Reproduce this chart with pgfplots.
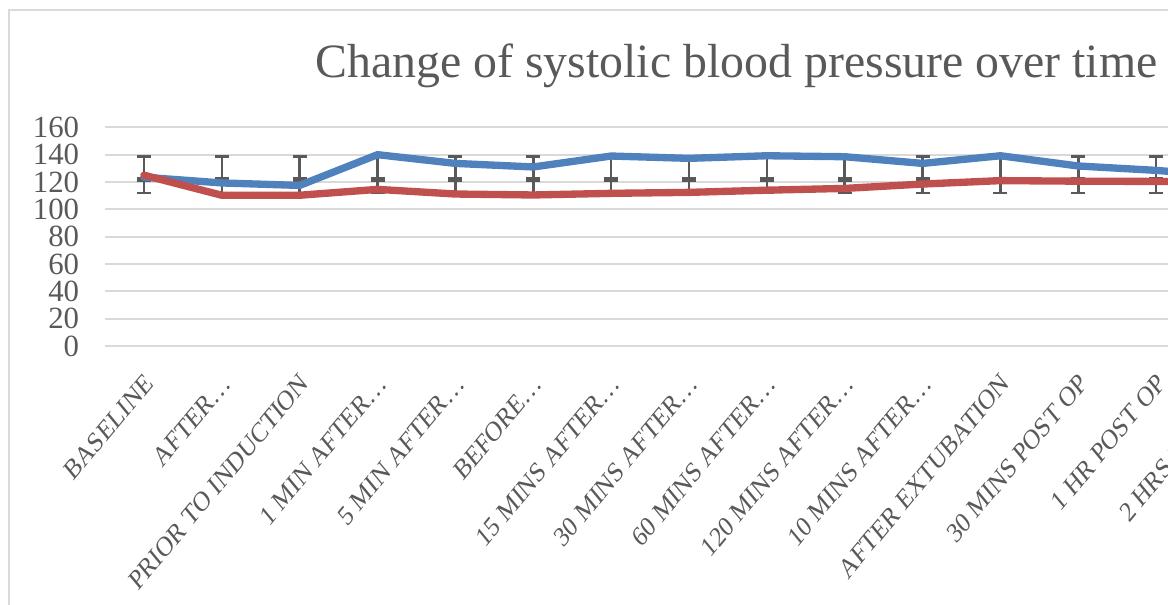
\documentclass[border=0pt]{standalone}
\usepackage{fontspec}
\setmainfont{Liberation Serif}
\usepackage{pgfplots}
\pgfplotsset{compat=1.18}
\definecolor{sbpblue}{HTML}{4F81BD}
\definecolor{sbpred}{HTML}{C0504D}
\definecolor{txtgray}{HTML}{595959}
\definecolor{gridgray}{HTML}{D9D9D9}
\definecolor{errgray}{HTML}{595959}

\begin{document}
\begin{tikzpicture}
% the reference is a crop of a wider chart: keep the same window
\useasboundingbox (0,0) rectangle (700.8pt,363pt);
\clip (0,0) rectangle (700.8pt,363pt);
\draw[gridgray, line width=1.2pt] (5.4pt,-5pt) -- (5.4pt,357pt) -- (720pt,357pt);
\node[txtgray, font=\fontsize{28.7}{32}\selectfont, anchor=base] at (441.9pt,316.2pt)
  {Change of systolic blood pressure over time};
\begin{axis}[
    at={(63pt,155.4pt)}, anchor=south west,
    scale only axis, width=700.8pt, height=131.2pt,
    xmin=-0.5, xmax=14.5, ymin=0, ymax=160,
    ytick={0,20,...,160},
    xtick={0,...,14},
    xticklabels={BASELINE, AFTER…, PRIOR TO INDUCTION, 1 MIN AFTER…, 5 MIN AFTER…,
      BEFORE…, 15 MINS AFTER…, 30 MINS AFTER…, 60 MINS AFTER…, 120 MINS AFTER…,
      10 MINS AFTER…, AFTER EXTUBATION, 30 MINS POST OP, 1 HR POST OP, 2 HRS POST OP},
    axis line style={draw=none},
    major tick length=0pt,
    ymajorgrids,
    grid style={gridgray, line width=1.2pt},
    /pgf/number format/assume math mode=true,
    tick label style={txtgray},
    yticklabel style={font=\fontsize{18.5}{20}\selectfont, xshift=-12pt},
    xticklabel style={font=\fontsize{17}{19}\selectfont, xshift=5pt, yshift=-17pt,
      xscale=0.83, rotate=45, anchor=east},
    clip=false,
]
% error bars: upper 123 to 138.5, lower 112 to 121
\addplot[draw=none, mark=none, forget plot,
  error bars/.cd, y dir=both, y explicit,
  error bar style={draw=errgray, line width=1.5pt},
  error mark options={rotate=90, draw=errgray, line width=1.5pt, mark size=4.2pt}]
  coordinates {
  (0,130.75) +- (0,7.75) (1,130.75) +- (0,7.75) (2,130.75) +- (0,7.75)
  (3,130.75) +- (0,7.75) (4,130.75) +- (0,7.75) (5,130.75) +- (0,7.75)
  (6,130.75) +- (0,7.75) (7,130.75) +- (0,7.75) (8,130.75) +- (0,7.75)
  (9,130.75) +- (0,7.75) (10,130.75) +- (0,7.75) (11,130.75) +- (0,7.75)
  (12,130.75) +- (0,7.75) (13,130.75) +- (0,7.75) (14,130.75) +- (0,7.75)};
\addplot[draw=none, mark=none, forget plot,
  error bars/.cd, y dir=both, y explicit,
  error bar style={draw=errgray, line width=1.5pt},
  error mark options={rotate=90, draw=errgray, line width=1.5pt, mark size=4.2pt}]
  coordinates {
  (0,116.5) +- (0,4.5) (1,116.5) +- (0,4.5) (2,116.5) +- (0,4.5)
  (3,116.5) +- (0,4.5) (4,116.5) +- (0,4.5) (5,116.5) +- (0,4.5)
  (6,116.5) +- (0,4.5) (7,116.5) +- (0,4.5) (8,116.5) +- (0,4.5)
  (9,116.5) +- (0,4.5) (10,116.5) +- (0,4.5) (11,116.5) +- (0,4.5)
  (12,116.5) +- (0,4.5) (13,116.5) +- (0,4.5) (14,116.5) +- (0,4.5)};
\addplot[sbpblue, line width=4.4pt, line join=round, line cap=round] coordinates {
  (0,123.5) (1,119.3) (2,117.5) (3,140) (4,133.6) (5,131) (6,139) (7,137.3)
  (8,139.2) (9,138.5) (10,133.6) (11,139.2) (12,131.7) (13,128.5) (14,124)};
\addplot[sbpred, line width=4.4pt, line join=round, line cap=round] coordinates {
  (0,125) (1,110.3) (2,110.3) (3,114.6) (4,111.2) (5,110.5) (6,111.7) (7,112.4)
  (8,114) (9,115.3) (10,118.5) (11,121) (12,120.6) (13,120.4) (14,120.4)};
\end{axis}
\end{tikzpicture}
\end{document}
